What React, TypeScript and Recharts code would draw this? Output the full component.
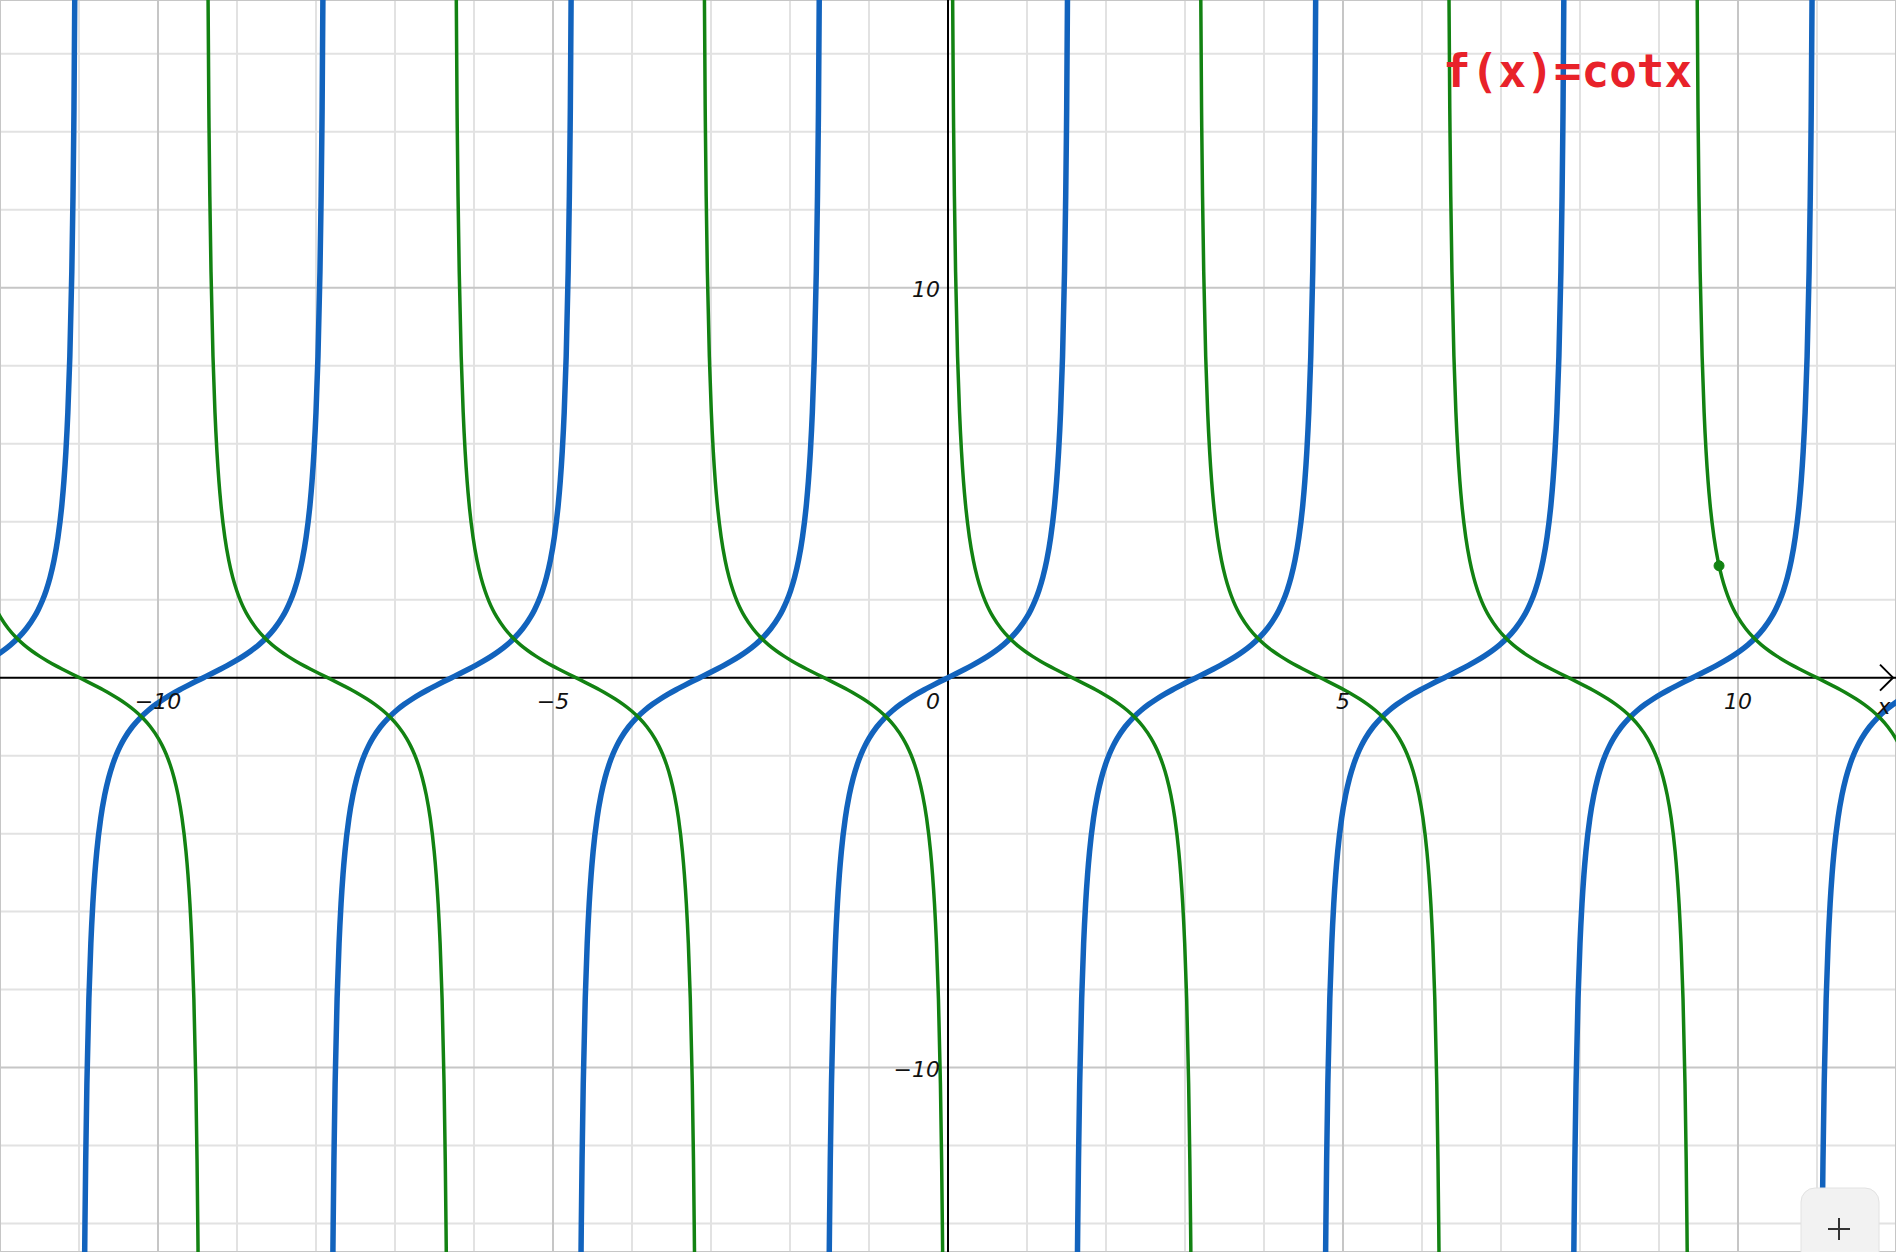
import React from "react";
import { LineChart, Line, XAxis, YAxis, CartesianGrid, ReferenceLine, ReferenceDot } from "recharts";

// one branch of tan, read at offsets from the branch centre
const tanOffsets = [-1.54, -1.52, -1.5, -1.49, -1.475, -1.45, -1.425, -1.4, -1.375, -1.35, -1.3, -1.25, -1.2, -1.15, -1.1, -1.05, -1.0, -0.9, -0.8, -0.7, -0.6, -0.5, -0.4, -0.3, -0.2, -0.1, 0, 0.1, 0.2, 0.3, 0.4, 0.5, 0.6, 0.7, 0.8, 0.9, 1.0, 1.05, 1.1, 1.15, 1.2, 1.25, 1.3, 1.35, 1.375, 1.4, 1.425, 1.45, 1.475, 1.49, 1.5, 1.52, 1.54];
const tanValues = [-32.46, -19.67, -14.1, -12.35, -10.41, -8.238, -6.81, -5.798, -5.043, -4.455, -3.602, -3.01, -2.572, -2.235, -1.965, -1.743, -1.557, -1.26, -1.03, -0.842, -0.684, -0.546, -0.423, -0.309, -0.203, -0.1, 0, 0.1, 0.203, 0.309, 0.423, 0.546, 0.684, 0.842, 1.03, 1.26, 1.557, 1.743, 1.965, 2.235, 2.572, 3.01, 3.602, 4.455, 5.043, 5.798, 6.81, 8.238, 10.41, 12.35, 14.1, 19.67, 32.46];
const cotValues = [32.46, 19.67, 14.1, 12.35, 10.41, 8.238, 6.81, 5.798, 5.043, 4.455, 3.602, 3.01, 2.572, 2.235, 1.965, 1.743, 1.557, 1.26, 1.03, 0.842, 0.684, 0.546, 0.423, 0.309, 0.203, 0.1, 0, -0.1, -0.203, -0.309, -0.423, -0.546, -0.684, -0.842, -1.03, -1.26, -1.557, -1.743, -1.965, -2.235, -2.572, -3.01, -3.602, -4.455, -5.043, -5.798, -6.81, -8.238, -10.41, -12.35, -14.1, -19.67, -32.46];

const tanCenters = [-12.566, -9.425, -6.283, -3.142, 0, 3.142, 6.283, 9.425, 12.566];
const cotCenters = [-10.996, -7.854, -4.712, -1.571, 1.571, 4.712, 7.854, 10.996];

const minorX = [-12, -11, -9, -8, -7, -6, -4, -3, -2, -1, 1, 2, 3, 4, 6, 7, 8, 9, 11, 12];
const majorX = [-10, -5, 5, 10];
const minorY = [-14, -12, -8, -6, -4, -2, 2, 4, 6, 8, 12, 14, 16];
const majorY = [-10, 10];
const xLabels = [-10, -5, 5, 10];
const yLabels = [-10, 10];

const point = { x: 9.76, y: 2.87 };

const build = (centers: number[], values: number[]) =>
  centers.map((c) => tanOffsets.map((u, i) => ({ x: c + u, y: values[i] })));

const tanBranches = build(tanCenters, tanValues);
const cotBranches = build(cotCenters, cotValues);

const BLUE = "#1263bd";
const GREEN = "#128212";
const labelFont = { fontFamily: "'DejaVu Sans', sans-serif", fontStyle: "italic", fontSize: 22, fill: "#111" } as const;

const fmt = (v: number) => (v < 0 ? `\u2212${-v}` : `${v}`);

export default function App() {
  return (
    <div style={{ position: "absolute", left: 0, top: 0, width: 1896, height: 1252, background: "#fff", overflow: "hidden" }}>
      <LineChart width={1896} height={1252} margin={{ top: 0, right: 0, bottom: 0, left: 0 }}>
        <XAxis xAxisId="minor" dataKey="x" type="number" domain={[-12, 12]} ticks={minorX} hide allowDataOverflow />
        <YAxis yAxisId="minor" type="number" domain={[-14.73, 17.38]} ticks={minorY} hide allowDataOverflow />
        <XAxis xAxisId="main" dataKey="x" type="number" domain={[-12, 12]} ticks={majorX} hide allowDataOverflow />
        <YAxis yAxisId="main" type="number" domain={[-14.73, 17.38]} ticks={majorY} hide allowDataOverflow />
        <CartesianGrid xAxisId="minor" yAxisId="minor" stroke="#e2e2e2" strokeWidth={2} />
        <CartesianGrid xAxisId="main" yAxisId="main" stroke="#c6c6c6" strokeWidth={2} />
        <ReferenceLine xAxisId="main" yAxisId="main" x={0} stroke="#000" strokeWidth={2} />
        <ReferenceLine xAxisId="main" yAxisId="main" y={0} stroke="#000" strokeWidth={2} />
        {tanBranches.map((b, i) => (
          <Line key={`t${i}`} xAxisId="main" yAxisId="main" data={b} dataKey="y" type="monotone" stroke={BLUE} strokeWidth={5.5} dot={false} activeDot={false} isAnimationActive={false} />
        ))}
        {cotBranches.map((b, i) => (
          <Line key={`c${i}`} xAxisId="main" yAxisId="main" data={b} dataKey="y" type="monotone" stroke={GREEN} strokeWidth={3.5} dot={false} activeDot={false} isAnimationActive={false} />
        ))}
        <ReferenceDot xAxisId="main" yAxisId="main" x={point.x} y={point.y} r={5} fill={GREEN} stroke={GREEN} />
        {xLabels.map((t) => (
          <ReferenceDot key={`xl${t}`} xAxisId="main" yAxisId="main" x={t} y={0} r={0}
            shape={(p: any) => <text x={p.cx} y={p.cy + 31} textAnchor="middle" {...labelFont}>{fmt(t)}</text>} />
        ))}
        {yLabels.map((t) => (
          <ReferenceDot key={`yl${t}`} xAxisId="main" yAxisId="main" x={0} y={t} r={0}
            shape={(p: any) => <text x={p.cx - 8} y={p.cy + 9} textAnchor="end" {...labelFont}>{fmt(t)}</text>} />
        ))}
        <ReferenceDot xAxisId="main" yAxisId="main" x={0} y={0} r={0}
          shape={(p: any) => <text x={p.cx - 8} y={p.cy + 31} textAnchor="end" {...labelFont}>0</text>} />
        <ReferenceDot xAxisId="main" yAxisId="main" x={12} y={0} r={0}
          shape={(p: any) => (
            <g>
              <polyline points={`${p.cx - 16},${p.cy - 13} ${p.cx - 3},${p.cy} ${p.cx - 16},${p.cy + 13}`} fill="none" stroke="#000" strokeWidth={2} />
              <text x={p.cx - 12} y={p.cy + 36} textAnchor="middle" {...labelFont}>x</text>
            </g>
          )} />
      </LineChart>
      <svg width={1896} height={1252} style={{ position: "absolute", left: 0, top: 0, pointerEvents: "none" }}>
        <text x={1443} y={87} fontFamily="'DejaVu Sans Mono', monospace" fontWeight="bold" fontSize={46} fill="#e8222a">f(x)=cotx</text>
        <rect x={1801} y={1188} width={78} height={90} rx={14} fill="#f2f2f2" stroke="#e2e2e2" strokeWidth={1} />
        <line x1={1828} y1={1229} x2={1850} y2={1229} stroke="#333" strokeWidth={2} />
        <line x1={1839} y1={1218} x2={1839} y2={1240} stroke="#333" strokeWidth={2} />
      </svg>
    </div>
  );
}
